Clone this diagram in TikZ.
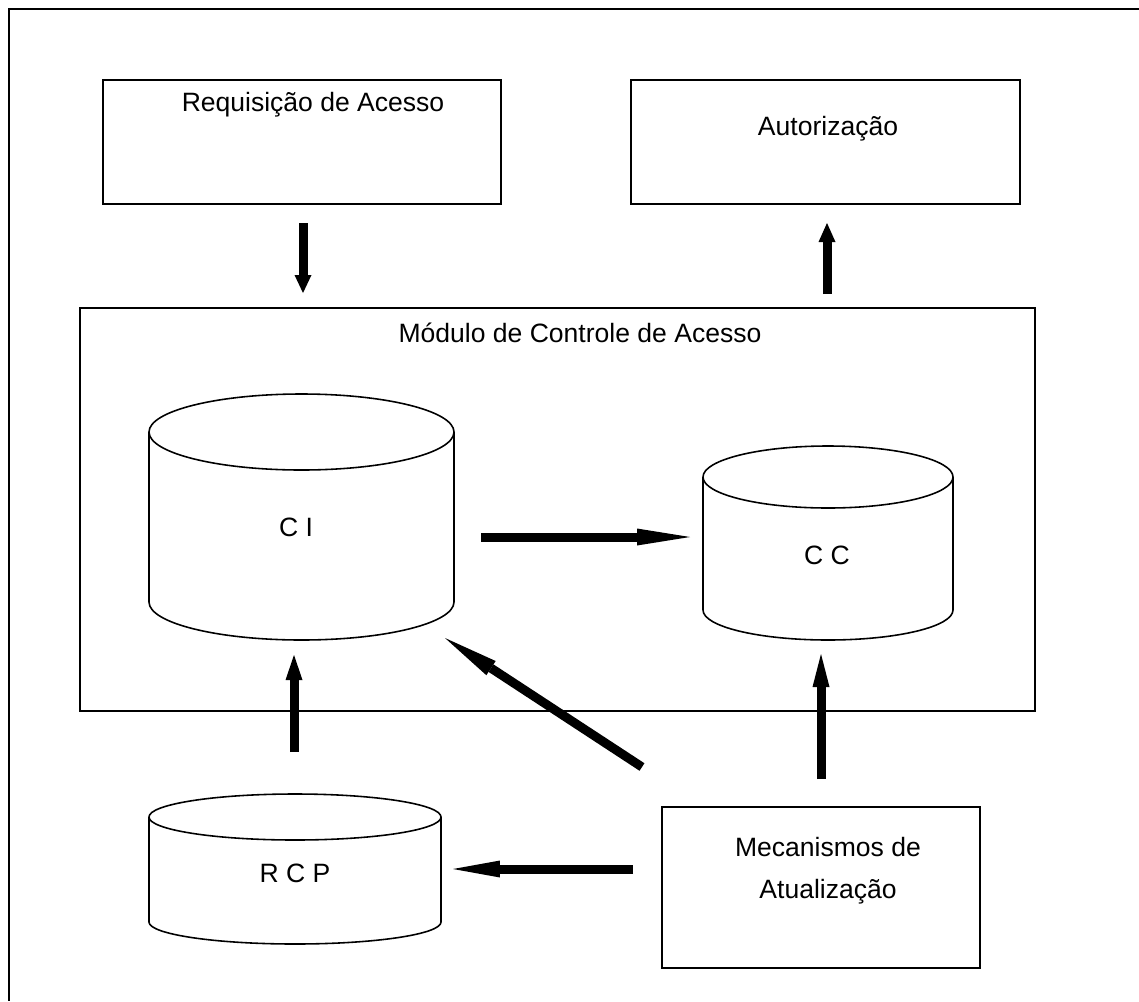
\documentclass[tikz,border=0pt]{standalone}
\usepackage{fontspec}
\setmainfont{Liberation Sans}
\usetikzlibrary{arrows.meta}

\begin{document}
\begin{tikzpicture}[x=0.02cm, y=-0.02cm,
	box/.style={draw, line width=1.1pt},
	drum/.style={draw, line width=0.9pt},
	flow/.style={line width=0.18cm, -{Triangle[length=#1, width=0.34cm, line width=0pt]}},
	every node/.style={font=\fontsize{15.1pt}{24pt}\selectfont}]
\useasboundingbox (0,0) rectangle (1139,1001);
\draw[line width=1.4pt] (1139,9) -- (9,9) -- (9,1001);

% caixas
\draw[box] (103,80) rectangle (501,204);
\draw[box] (631,80) rectangle (1020,204);
\draw[box] (80,308) rectangle (1035,711);
\draw[box] (662,807) rectangle (980,968);
\node (req) at (313,105) {Requisição de Acesso};
\node (aut) at (828,129) {Autorização};
\node (mod) at (580,333) {Módulo de Controle de Acesso};
\node[align=center] (mec) at (828,871) {Mecanismos de\\Atualização};

% cilindros
\draw[drum] (301.5,432) ellipse [x radius=152.5, y radius=38];
\draw[drum] (149,432) -- (149,602) arc [start angle=180, end angle=0, x radius=152.5, y radius=38] -- (454,432);
\node (ci) at (296,527) {C I};
\draw[drum] (828,477) ellipse [x radius=125, y radius=31];
\draw[drum] (703,477) -- (703,610) arc [start angle=180, end angle=0, x radius=125, y radius=30] -- (953,477);
\node (cc) at (827,555) {C C};
\draw[drum] (295,817) ellipse [x radius=146, y radius=23];
\draw[drum] (149,817) -- (149,922) arc [start angle=180, end angle=0, x radius=146, y radius=22] -- (441,817);
\node (rcp) at (295,873) {R C P};

% setas
\coordinate (req-s) at (303,223);
\coordinate (mod-n) at (303,293);
\coordinate (mod-s) at (827,294);
\coordinate (aut-n) at (827,223);
\coordinate (ci-e) at (481,537);
\coordinate (cc-w) at (690,537);
\coordinate (rcp-n) at (294,752);
\coordinate (ci-s) at (294,655);
\coordinate (mec-n) at (821,779);
\coordinate (cc-s) at (821,654);
\coordinate (mec-nw) at (642,767);
\coordinate (ci-se) at (445,638);
\coordinate (mec-w) at (633,869);
\coordinate (rcp-e) at (453,869);
\draw[flow=0.36cm] (req-s) -- (mod-n);
\draw[flow=0.38cm] (mod-s) -- (aut-n);
\draw[flow=1.06cm] (ci-e) -- (cc-w);
\draw[flow=0.5cm] (rcp-n) -- (ci-s);
\draw[flow=0.66cm] (mec-n) -- (cc-s);
\draw[flow=1.1cm] (mec-nw) -- (ci-se);
\draw[flow=0.94cm] (mec-w) -- (rcp-e);

\end{tikzpicture}
\end{document}
